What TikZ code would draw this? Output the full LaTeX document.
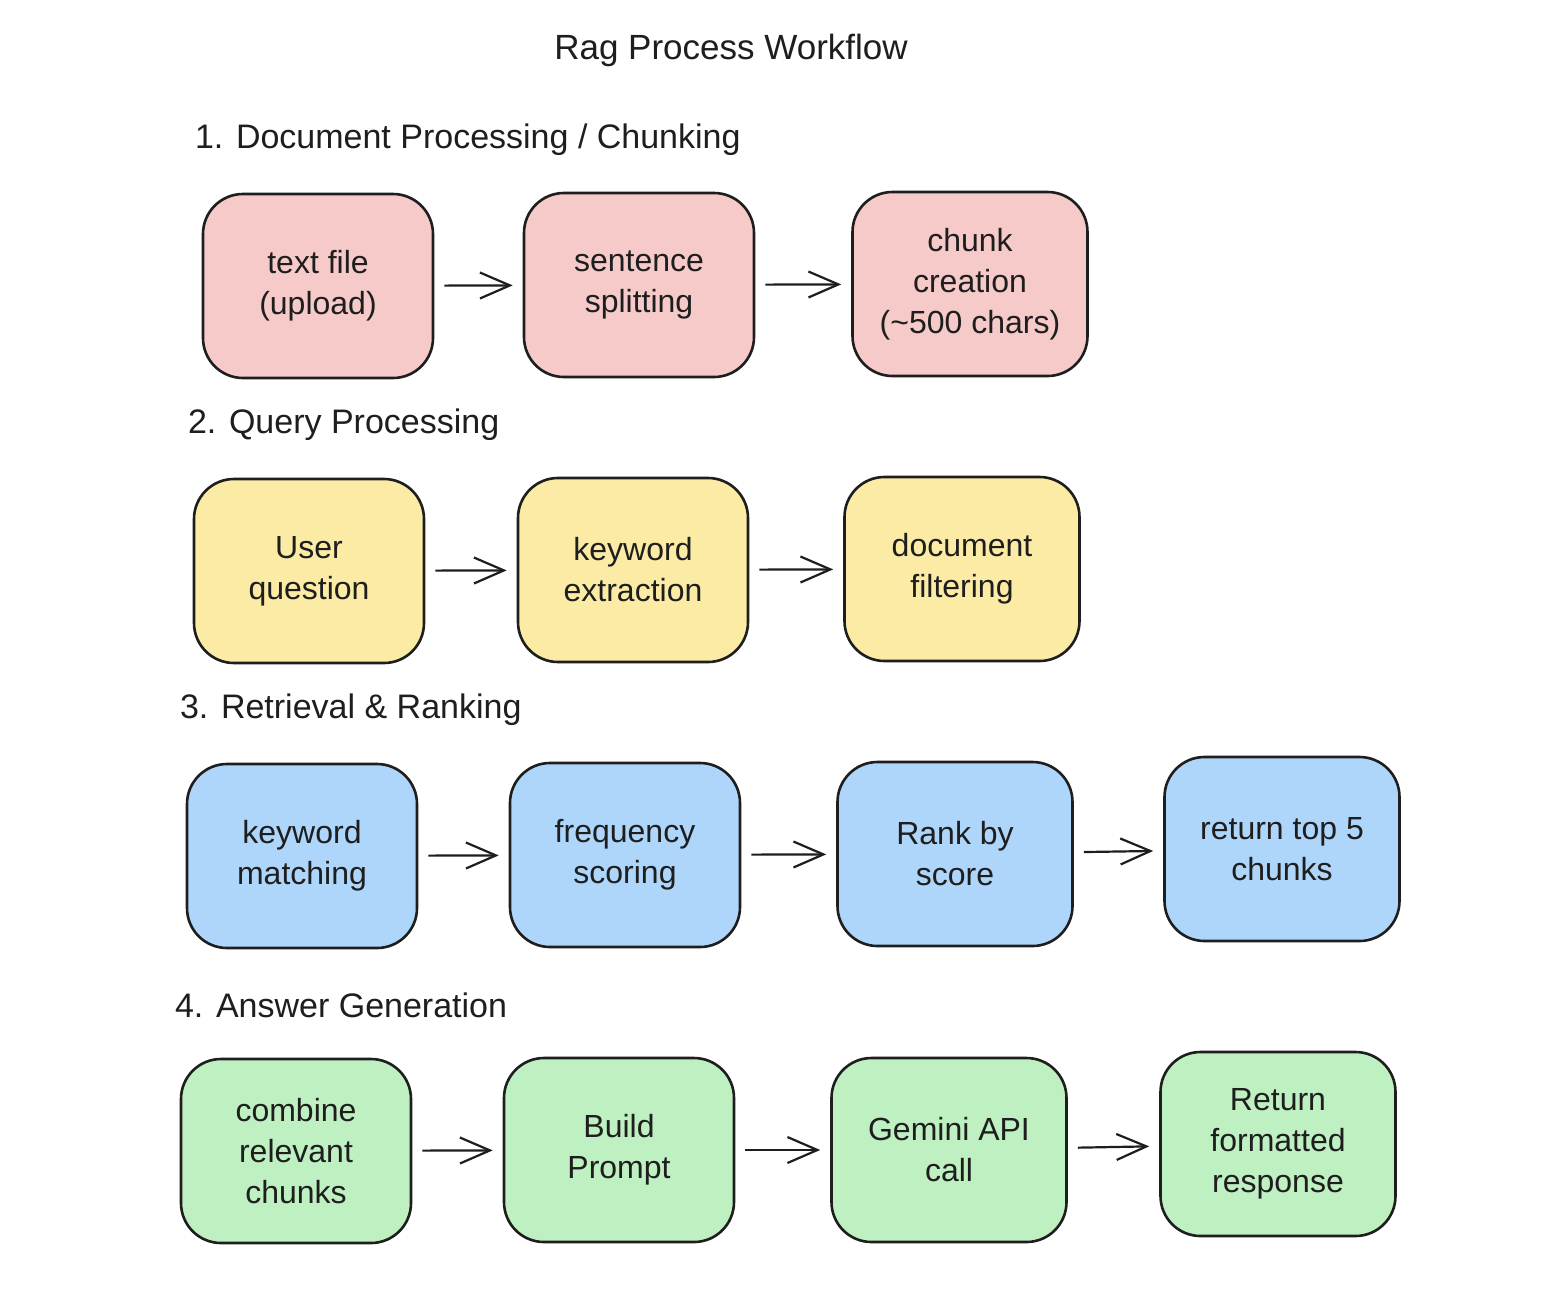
\documentclass[tikz,border=0pt]{standalone}
\usepackage{fontspec}
\setmainfont{Liberation Sans}
\usetikzlibrary{arrows.meta}
\usetikzlibrary{positioning}
\definecolor{inkcol}{HTML}{1E1E1E}
\definecolor{pinkfill}{HTML}{F7CACA}
\definecolor{yellowfill}{HTML}{FCEBA4}
\definecolor{bluefill}{HTML}{AED6FA}
\definecolor{greenfill}{HTML}{BFF0C1}
\tikzstyle{stage}=[draw=inkcol,line width=1.3pt,rounded corners=20pt,minimum width=115pt,minimum height=92pt,align=center,text=inkcol,font=\fontsize{16}{20.5}\selectfont]
\tikzstyle{wide}=[minimum width=117.5pt]
\tikzstyle{heading}=[anchor=west,text=inkcol,font=\fontsize{17}{20}\selectfont]

\begin{document}
\begin{tikzpicture}[x=0.5pt,y=-0.5pt]
\tikzstyle{flow}=[->,>={Straight Barb[length=15pt,width=13pt]},draw=inkcol,line width=1.1pt,shorten <=5pt,shorten >=5pt]
\useasboundingbox (0,0) rectangle (1548,1302);
\fill[white] (0,0) rectangle (1548,1302);

\node [text=inkcol,font=\fontsize{17.5}{20}\selectfont] (title) at (731,50) {Rag Process Workflow};

% 1. document processing
\node [heading] (sec1) at (188,140) {1. Document Processing / Chunking};
\node [stage,fill=pinkfill] (upload) at (318,286) {text file\\(upload)};
\node [stage,fill=pinkfill] (split) at (639,285) {sentence\\splitting};
\node [stage,wide,fill=pinkfill] (chunk) at (970,284) {chunk\\creation\\(\textasciitilde500 chars)};
\draw[flow] (upload) -- (split);
\draw[flow] (split) -- (chunk);

% 2. query processing
\node [heading] (sec2) at (181,425) {2. Query Processing};
\node [stage,fill=yellowfill] (question) at (309,571) {User\\question};
\node [stage,fill=yellowfill] (keywords) at (633,570) {keyword\\extraction};
\node [stage,wide,fill=yellowfill] (filter) at (962,569) {document\\filtering};
\draw[flow] (question) -- (keywords);
\draw[flow] (keywords) -- (filter);

% 3. retrieval & ranking
\node [heading] (sec3) at (173,710) {3. Retrieval \& Ranking};
\node [stage,fill=bluefill] (match) at (302,856) {keyword\\matching};
\node [stage,fill=bluefill] (score) at (625,855) {frequency\\scoring};
\node [stage,wide,fill=bluefill] (rank) at (955,854) {Rank by\\score};
\node [stage,wide,fill=bluefill] (top) at (1282,849) {return top 5\\chunks};
\draw[flow] (match) -- (score);
\draw[flow] (score) -- (rank);
\draw[flow] (rank) -- (top);

% 4. answer generation
\node [heading] (sec4) at (168,1005) {4. Answer Generation};
\node [stage,fill=greenfill] (combine) at (296,1151) {combine\\relevant\\chunks};
\node [stage,fill=greenfill] (prompt) at (619,1150) {Build\\Prompt};
\node [stage,wide,fill=greenfill] (gemini) at (949,1150) {Gemini API\\call};
\node [stage,wide,fill=greenfill] (reply) at (1278,1144) {Return\\formatted\\response};
\draw[flow] (combine) -- (prompt);
\draw[flow] (prompt) -- (gemini);
\draw[flow] (gemini) -- (reply);
\end{tikzpicture}
\end{document}
